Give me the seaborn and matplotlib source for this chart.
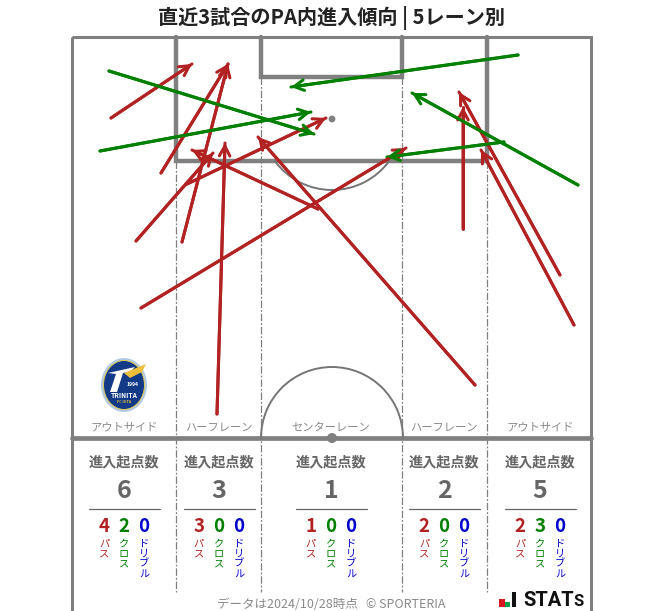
import matplotlib

matplotlib.use("Agg")
import matplotlib.pyplot as plt
import pandas as pd
import seaborn as sns
from matplotlib.patches import Arc, Circle, Ellipse, Polygon, Rectangle

# entries, pixel positions (x0, y0, x1, y1)
pass_entries = [
    (111, 118, 192, 64),
    (161, 173, 228, 64),
    (182, 242, 228, 64),
    (136, 241, 213, 153),
    (217, 414, 225, 143),
    (187, 184, 326, 118),
    (318, 209, 192, 150),
    (475, 385, 258, 137),
    (141, 308, 406, 148),
    (463, 229, 463, 107),
    (560, 275, 459, 92),
    (574, 325, 481, 150),
]
cross_entries = [
    (109, 71, 314, 134),
    (100, 151, 311, 112),
    (518, 55, 291, 87),
    (578, 185, 412, 93),
    (504, 142, 387, 157),
]

lane_names = ["アウトサイド", "ハーフレーン", "センターレーン", "ハーフレーン", "アウトサイド"]
lane_centers = [124, 219, 331, 444, 540]
lane_edges = [176, 261, 402, 487]
lane_totals = [6, 3, 1, 2, 5]
lane_pass = [4, 3, 1, 2, 2]
lane_cross = [2, 0, 0, 0, 3]
lane_dribble = [0, 0, 0, 0, 0]

RED = "#b22222"
GREEN = "#008000"
BLUE = "#0000cd"
LINE = "#808080"
TEXT = "#666666"

sns.set_style("white")
plt.rcParams["font.family"] = ["Noto Sans CJK JP", "DejaVu Sans"]


def entries_frame():
    rows = []
    for kind, entries in (("pass", pass_entries), ("cross", cross_entries)):
        for i, (x0, y0, x1, y1) in enumerate(entries):
            rows.append({"id": f"{kind}{i}", "kind": kind, "step": 0, "x": x0, "y": y0})
            rows.append({"id": f"{kind}{i}", "kind": kind, "step": 1, "x": x1, "y": y1})
    return pd.DataFrame(rows)


def draw_pitch(ax):
    ax.add_patch(Rectangle((72, 37), 519, 600, fill=False, ec=LINE, lw=2.2, zorder=2))
    ax.plot([176, 176, 487, 487], [37, 161, 161, 37], color=LINE, lw=3.2, solid_joinstyle="miter", zorder=2)
    ax.plot([261, 261, 402, 402], [37, 77, 77, 37], color=LINE, lw=3.2, solid_joinstyle="miter", zorder=2)
    ax.plot([72, 591], [438, 438], color=LINE, lw=3.4, zorder=2)
    for x in lane_edges:
        top = 161 if x in (176, 487) else 77
        ax.plot([x, x], [top, 592], color=LINE, lw=0.9, ls=(0, (6, 1.5, 1.5, 1.5)), zorder=1)
    ax.add_patch(Arc((332, 119), 142, 142, theta1=36, theta2=144, ec="#757575", lw=1.4, zorder=2))
    ax.add_patch(Arc((332, 438), 142, 142, theta1=180, theta2=360, ec="#757575", lw=1.4, zorder=2))
    ax.add_patch(Circle((332, 119), 3.4, fc=LINE, ec="none", zorder=2))
    ax.add_patch(Circle((332, 438), 5, fc=LINE, ec="none", zorder=2))


def draw_badge(ax):
    ax.add_patch(Ellipse((124, 385), 46, 54, fc="#b4cbe6", ec="none", zorder=3))
    ax.add_patch(Ellipse((124, 385), 41, 49, fc="#123a86", ec="#e3cc55", lw=0.7, zorder=3))
    ax.add_patch(Polygon([(108, 373), (135, 367), (130, 372), (123, 373), (117, 392), (110, 392), (116, 374)], fc="white", ec="none", zorder=4))
    ax.add_patch(Polygon([(124, 373), (146, 364), (142, 372), (130, 378)], fc="#edbf3a", ec="none", zorder=4))
    ax.text(124, 396, "TRINITA", color="white", fontsize=4.8, fontweight="bold", ha="center", va="center", zorder=5)
    ax.text(133, 384, "1994", color="white", fontsize=3.6, fontweight="bold", ha="center", va="center", zorder=5)
    ax.text(124, 402, "FC OITA", color="#edbf3a", fontsize=2.6, fontweight="bold", ha="center", va="center", zorder=5)


def draw_lane_table(ax):
    for i, center in enumerate(lane_centers):
        ax.text(center, 428, lane_names[i], color="#8a8a8a", fontsize=8.1, ha="center", va="center")
        ax.text(center, 462, "進入起点数", color=TEXT, fontsize=10.2, fontweight="bold", ha="center", va="center")
        ax.text(center, 491, str(lane_totals[i]), color=TEXT, fontsize=18, fontweight="bold", ha="center", va="center")
        ax.plot([center - 35.5, center + 35.5], [508.5, 508.5], color=TEXT, lw=0.9)
        cols = [
            (-20, lane_pass[i], "パス", RED),
            (0, lane_cross[i], "クロス", GREEN),
            (20, lane_dribble[i], "ドリブル", BLUE),
        ]
        for dx, value, label, color in cols:
            ax.text(center + dx, 526, str(value), color=color, fontsize=13.5, fontweight="bold", ha="center", va="center")
            for j, ch in enumerate(label):
                ax.text(center + dx, 544 + j * 10, ch, color=color, fontsize=7.4, ha="center", va="center")


def draw_footer(ax):
    ax.text(331.5, 604, "データは2024/10/28時点   © SPORTERIA", color="#8a8a8a", fontsize=9, ha="center", va="center")
    ax.add_patch(Rectangle((499, 599), 6, 8, fc="#d7191f", ec="none"))
    ax.add_patch(Rectangle((505, 602), 5, 5, fc="#11a04a", ec="none"))
    ax.add_patch(Rectangle((512, 592), 4, 15, fc="#111111", ec="none"))
    ax.text(523, 600, "STAT", color="#111111", fontsize=14.5, fontweight="bold", family="Roboto", ha="left", va="center")
    ax.text(573, 602, "S", color="#111111", fontsize=12, fontweight="bold", family="Roboto", ha="left", va="center")


def main():
    fig = plt.figure(figsize=(6.63, 6.11), dpi=100)
    ax = fig.add_axes([0, 0, 1, 1])

    draw_pitch(ax)
    df = entries_frame()
    sns.lineplot(
        data=df,
        x="x",
        y="y",
        hue="kind",
        hue_order=["pass", "cross"],
        palette={"pass": RED, "cross": GREEN},
        units="id",
        estimator=None,
        sort=False,
        linewidth=2.2,
        legend=False,
        zorder=6,
        ax=ax,
    )
    for entries, color in ((pass_entries, RED), (cross_entries, GREEN)):
        for x0, y0, x1, y1 in entries:
            ax.annotate(
                "",
                xy=(x1, y1),
                xytext=(x0, y0),
                arrowprops=dict(
                    arrowstyle="->,head_length=0.7,head_width=0.38",
                    color=color,
                    lw=2.2,
                    shrinkA=0,
                    shrinkB=0,
                ),
                zorder=7,
            )

    draw_badge(ax)
    draw_lane_table(ax)
    draw_footer(ax)

    ax.text(331, 18.5, "直近3試合のPA内進入傾向 | 5レーン別", color="#222222", fontsize=14.5, fontweight="bold", ha="center", va="center")

    ax.set_xlim(0, 663)
    ax.set_ylim(611, 0)
    ax.set_axis_off()
    fig.savefig("out.png", dpi=100)


if __name__ == "__main__":
    main()
